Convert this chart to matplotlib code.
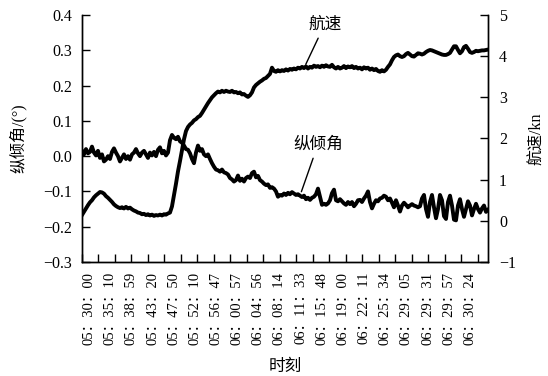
import numpy as np
import matplotlib
matplotlib.use('Agg')
import matplotlib.pyplot as plt

plt.rcParams['font.family'] = ['Liberation Serif', 'Noto Sans CJK SC']
plt.rcParams['axes.linewidth'] = 1.0

# 航速 (kn), one sample per step along the record
speed = [
    0.14, 0.22, 0.30, 0.38, 0.45, 0.50, 0.57, 0.62, 0.66, 0.70,
    0.69, 0.66, 0.60, 0.56, 0.51, 0.46, 0.40, 0.36, 0.33, 0.31,
    0.33, 0.30, 0.34, 0.30, 0.32, 0.28, 0.25, 0.23, 0.20, 0.19,
    0.16, 0.17, 0.14, 0.16, 0.13, 0.15, 0.12, 0.14, 0.13, 0.15,
    0.13, 0.16, 0.15, 0.18, 0.20, 0.35, 0.62, 0.90, 1.20, 1.45,
    1.72, 1.98, 2.18, 2.28, 2.34, 2.38, 2.44, 2.47, 2.52, 2.55,
    2.62, 2.70, 2.78, 2.86, 2.93, 3.00, 3.05, 3.10, 3.14, 3.12,
    3.16, 3.13, 3.16, 3.14, 3.13, 3.16, 3.12, 3.13, 3.10, 3.12,
    3.07, 3.08, 3.04, 3.01, 3.05, 3.12, 3.24, 3.30, 3.34, 3.38,
    3.41, 3.45, 3.47, 3.52, 3.57, 3.72, 3.64, 3.62, 3.66, 3.63,
    3.66, 3.64, 3.68, 3.65, 3.69, 3.67, 3.70, 3.68, 3.72, 3.70,
    3.74, 3.71, 3.75, 3.70, 3.74, 3.72, 3.77, 3.74, 3.76, 3.73,
    3.77, 3.74, 3.78, 3.75, 3.74, 3.79, 3.73, 3.70, 3.74, 3.70,
    3.72, 3.76, 3.71, 3.75, 3.73, 3.76, 3.71, 3.74, 3.70, 3.72,
    3.68, 3.73, 3.70, 3.72, 3.67, 3.70, 3.66, 3.69, 3.64, 3.62,
    3.66, 3.63, 3.67, 3.74, 3.80, 3.90, 3.98, 4.02, 4.04, 4.00,
    3.98, 4.00, 4.05, 4.08, 4.04, 4.00, 3.99, 4.03, 4.07, 4.06,
    4.04, 4.06, 4.10, 4.13, 4.15, 4.14, 4.12, 4.10, 4.08, 4.06,
    4.04, 4.03, 4.03, 4.05, 4.08, 4.16, 4.24, 4.24, 4.15, 4.07,
    4.12, 4.22, 4.25, 4.18, 4.10, 4.08, 4.10, 4.13, 4.12, 4.13,
    4.14, 4.14, 4.15, 4.16,
]

# 纵倾角 (°)
pitch = [
    0.015, 0.005, 0.020, 0.008, 0.012, 0.027, 0.010, 0.002, 0.015, -0.005,
    0.005, -0.015, -0.010, 0.000, -0.008, 0.012, 0.022, 0.010, 0.000, -0.015,
    -0.005, 0.005, -0.008, 0.000, -0.010, 0.005, 0.010, 0.020, 0.008, 0.000,
    0.010, 0.015, 0.005, -0.005, 0.010, 0.002, 0.012, 0.000, 0.018, 0.025,
    0.008, 0.015, 0.002, 0.010, 0.045, 0.060, 0.052, 0.048, 0.055, 0.042,
    0.038, 0.030, 0.020, 0.018, 0.008, -0.008, -0.020, 0.010, 0.030, 0.015,
    0.020, 0.005, 0.000, 0.005, -0.008, -0.020, -0.030, -0.038, -0.040, -0.044,
    -0.038, -0.046, -0.048, -0.052, -0.062, -0.066, -0.072, -0.068, -0.055, -0.070,
    -0.064, -0.072, -0.062, -0.058, -0.062, -0.048, -0.044, -0.060, -0.056, -0.068,
    -0.072, -0.078, -0.082, -0.080, -0.090, -0.088, -0.092, -0.100, -0.115, -0.110,
    -0.112, -0.106, -0.110, -0.104, -0.108, -0.102, -0.106, -0.110, -0.108, -0.112,
    -0.116, -0.112, -0.122, -0.118, -0.124, -0.118, -0.115, -0.108, -0.092, -0.115,
    -0.138, -0.135, -0.138, -0.134, -0.125, -0.105, -0.095, -0.125, -0.128, -0.122,
    -0.128, -0.134, -0.138, -0.130, -0.136, -0.130, -0.142, -0.135, -0.125, -0.124,
    -0.130, -0.120, -0.112, -0.100, -0.130, -0.148, -0.135, -0.125, -0.128, -0.120,
    -0.118, -0.112, -0.115, -0.125, -0.120, -0.132, -0.145, -0.125, -0.140, -0.157,
    -0.140, -0.132, -0.138, -0.145, -0.140, -0.136, -0.140, -0.142, -0.145, -0.142,
    -0.120, -0.110, -0.150, -0.172, -0.130, -0.110, -0.145, -0.176, -0.150, -0.110,
    -0.125, -0.170, -0.178, -0.130, -0.112, -0.140, -0.180, -0.182, -0.140, -0.122,
    -0.150, -0.172, -0.150, -0.128, -0.140, -0.168, -0.150, -0.135, -0.150, -0.160,
    -0.148, -0.140, -0.158, -0.152,
]

time_labels = [
    '05：30：00', '05：35：10', '05：38：59', '05：43：20', '05：47：50',
    '05：52：10', '05：56：47', '06：00：57', '06：04：56', '06：08：14',
    '06：11：33', '06：15：48', '06：19：00', '06：22：11', '06：25：34',
    '06：29：05', '06：29：31', '06：29：57', '06：30：24',
]

pitch_ticks = [-0.3, -0.2, -0.1, 0.0, 0.1, 0.2, 0.3, 0.4]
speed_ticks = [-1, 0, 1, 2, 3, 4, 5]

x = np.arange(len(speed))
n = len(x)

fig = plt.figure(figsize=(5.48, 3.76), dpi=100)
ax = fig.add_axes([0.1496, 0.3032, 0.7409, 0.6569])
ax2 = ax.twinx()

ax.plot(x, pitch, color='black', lw=2.8, solid_joinstyle='round')
ax2.plot(x, speed, color='black', lw=2.8, solid_joinstyle='round')

ax.set_xlim(0, n - 1)
ax.set_ylim(-0.3, 0.4)
ax2.set_ylim(-1, 5)

ax.spines['top'].set_visible(False)
ax2.spines['top'].set_visible(False)

ax.set_yticks(pitch_ticks, labels=[f'{v:.1f}'.replace('-', '\u2212') for v in pitch_ticks])
ax2.set_yticks(speed_ticks, labels=[str(v).replace('-', '\u2212') for v in speed_ticks])
ax.tick_params(axis='y', direction='in', length=6, width=1, labelsize=11.5, pad=7)
ax2.tick_params(axis='y', direction='in', length=6, width=1, labelsize=11.5, pad=8)

# tick marks and time labels sit on different spacings along the axis
tick_pos = np.arange(25) * 8.24
label_pos = 3.5 + np.arange(len(time_labels)) * 10.58
ax.set_xticks(tick_pos, labels=[''] * len(tick_pos))
ax.set_xticks(label_pos, labels=time_labels, minor=True)
ax.tick_params(axis='x', which='major', direction='in', length=6, width=1)
ax.tick_params(axis='x', which='minor', length=0, labelsize=10.5, rotation=90, pad=7)

ax.set_ylabel('纵倾角/(°)', fontsize=11.5, va='center', ha='center')
ax.yaxis.set_label_coords(-0.158, 0.5)
ax2.set_ylabel('航速/kn', fontsize=11.5, va='center', ha='center', rotation=90)
ax2.yaxis.set_label_coords(1.121, 0.5)
ax.set_xlabel('时刻', fontsize=12, va='center', ha='center')
ax.xaxis.set_label_coords(0.5, -0.425)

ax2.annotate('航速', xy=(111, speed[111]), xytext=(121.5, 4.76),
             ha='center', va='center', fontsize=12,
             arrowprops=dict(arrowstyle='-', lw=1, color='black',
                             relpos=(0.37, 0), shrinkA=2, shrinkB=3))
ax.annotate('纵倾角', xy=(109, pitch[109]), xytext=(118, 0.032),
            ha='center', va='center', fontsize=12,
            arrowprops=dict(arrowstyle='-', lw=1, color='black',
                            relpos=(0.44, 0), shrinkA=2, shrinkB=3))

fig.savefig('out.png', dpi=100)
plt.close(fig)
